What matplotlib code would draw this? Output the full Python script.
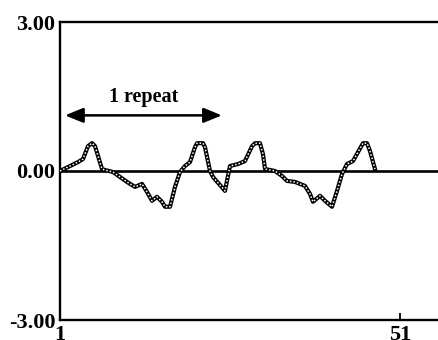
import matplotlib
matplotlib.use("Agg")

import numpy as np
import matplotlib.pyplot as plt

# ============================================================
# DATA
# ============================================================
pos = [1.0, 2.47, 3.65, 4.38, 5.12, 5.71, 6.15, 7.18, 7.62, 8.79, 9.82,
       10.85, 12.03, 13.06, 13.79, 14.53, 15.26, 16.0, 16.44, 17.18, 17.91,
       18.65, 19.38, 20.12, 20.85, 21.15, 22.03, 22.32, 23.06, 23.5, 25.26,
       26.0, 27.18, 28.2, 29.24, 29.68, 30.41, 30.85, 31.15, 32.62, 33.65,
       34.38, 35.56, 37.03, 37.76, 38.2, 39.24, 39.97, 41.0, 41.74, 42.47,
       43.2, 44.09, 44.82, 45.56, 46.15, 46.59, 47.32]
score = [0.0, 0.10, 0.18, 0.24, 0.50, 0.56, 0.50, 0.04, 0.02, -0.02, -0.12,
         -0.22, -0.32, -0.26, -0.42, -0.60, -0.52, -0.62, -0.72, -0.72, -0.32,
         -0.02, 0.10, 0.18, 0.48, 0.56, 0.56, 0.48, 0.0, -0.12, -0.40,
         0.10, 0.14, 0.20, 0.50, 0.56, 0.56, 0.34, 0.04, 0.0, -0.10,
         -0.20, -0.22, -0.30, -0.46, -0.62, -0.50, -0.60, -0.72, -0.40, -0.06,
         0.14, 0.20, 0.38, 0.56, 0.56, 0.40, 0.04]

y_ticks = [-3.0, 0.0, 3.0]
y_tick_labels = ["-3.00", "0.00", "3.00"]
x_ticks = [1, 51]
x_tick_labels = ["1", "51"]

repeat_start = 1.74
repeat_end = 24.8
repeat_label = "1 repeat"

# ============================================================
# PLOT
# ============================================================
plt.rcParams["font.family"] = ["Liberation Serif", "DejaVu Serif"]
plt.rcParams["font.weight"] = "bold"

fig = plt.figure(figsize=(4.38, 3.40), dpi=100)
ax = fig.add_axes([60 / 438, 20 / 340, 1 - 60 / 438, 298 / 340])

ax.set_xlim(1, 1 + 378 / 6.8)
ax.set_ylim(-3, 3)

# zero line
ax.axhline(0, color="black", lw=1.9, zorder=1)

# dotted trace: black outline, white dots inside
ax.plot(pos, score, color="black", lw=3.0, zorder=2,
        solid_joinstyle="round")
ax.plot(pos, score, color="white", lw=1.1, ls=(0, (1, 1.3)), zorder=3)

ax.annotate("", xy=(repeat_end, 1.12), xytext=(repeat_start, 1.12),
            arrowprops=dict(arrowstyle="<|-|>,head_length=1.1,head_width=0.45",
                            color="black", lw=1.8, shrinkA=0, shrinkB=0))
ax.text((repeat_start + repeat_end) / 2, 1.38, repeat_label, ha="center",
        va="baseline", fontsize=14.5, fontweight="bold")

ax.spines["right"].set_visible(False)
for side in ["left", "top", "bottom"]:
    ax.spines[side].set_linewidth(1.7)

ax.set_yticks(y_ticks)
ax.set_yticklabels(y_tick_labels, fontsize=16, fontweight="bold")
ax.set_xticks(x_ticks)
ax.set_xticklabels(x_tick_labels, fontsize=16, fontweight="bold")
ax.tick_params(axis="both", direction="in", length=5, width=1.3, pad=3.5)

fig.savefig("out.png", dpi=100)
